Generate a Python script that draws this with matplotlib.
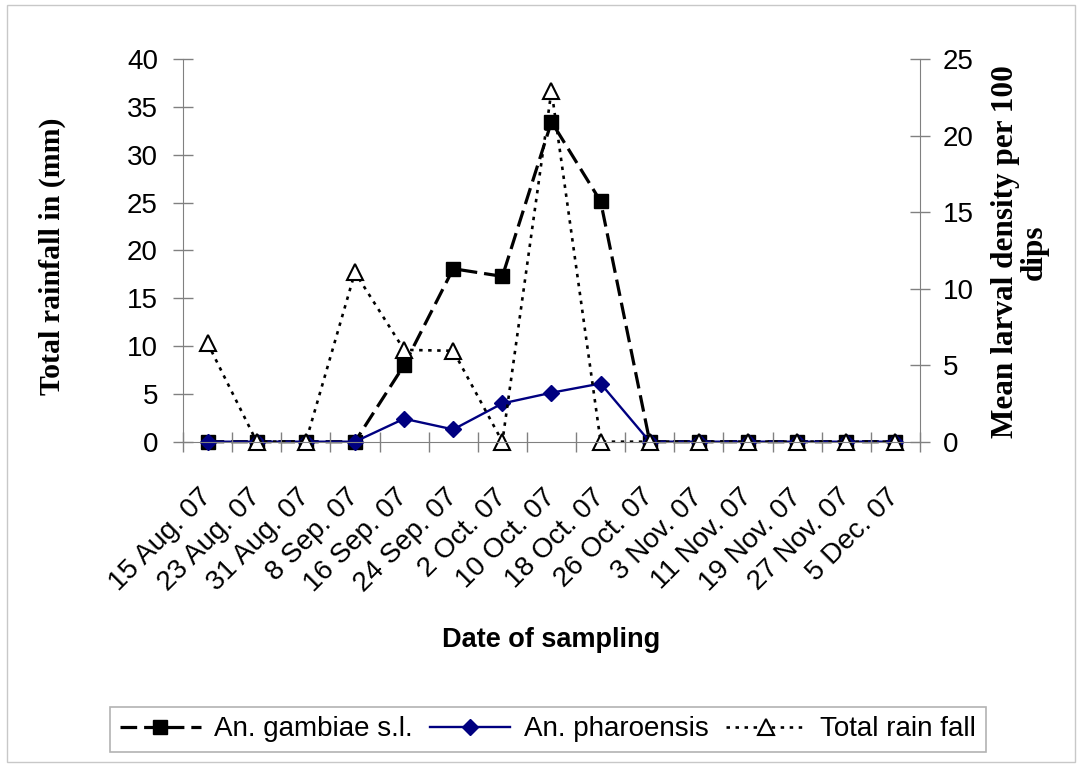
import matplotlib
matplotlib.use('Agg')
import matplotlib.pyplot as plt
from matplotlib.patches import Rectangle

# ---- data ----
dates = ['15 Aug. 07', '23 Aug. 07', '31 Aug. 07', '8 Sep. 07', '16 Sep. 07',
         '24 Sep. 07', '2 Oct. 07', '10 Oct. 07', '18 Oct. 07', '26 Oct. 07',
         '3 Nov. 07', '11 Nov. 07', '19 Nov. 07', '27 Nov. 07', '5 Dec. 07']
rainfall = [10.3, 0, 0, 17.7, 9.6, 9.5, 0, 36.7, 0, 0, 0, 0, 0, 0, 0]
gambiae = [0, 0, 0, 0, 5.0, 11.3, 10.8, 20.9, 15.7, 0, 0, 0, 0, 0, 0]
pharoensis = [0, 0, 0, 0, 1.5, 0.8, 2.5, 3.2, 3.8, 0, 0, 0, 0, 0, 0]
rain_ticks = [0, 5, 10, 15, 20, 25, 30, 35, 40]
larva_ticks = [0, 5, 10, 15, 20, 25]

plt.rcParams['font.family'] = ['Liberation Sans', 'DejaVu Sans']
plt.rcParams['lines.scale_dashes'] = False

W, H = 1079, 766
fig = plt.figure(figsize=(W / 100, H / 100), dpi=100)
ax = fig.add_axes([183 / W, 1 - 441.7 / H, (920 - 183) / W, (441.7 - 59) / H])
ax2 = ax.twinx()
ax.set_zorder(ax2.get_zorder() + 1)
ax.patch.set_visible(False)

x = list(range(len(dates)))
l_g, = ax2.plot(x, gambiae, color='black', lw=2.3, dashes=(12, 5), marker='s', ms=9.5,
                mfc='black', mec='black', label='An. gambiae s.l.', clip_on=False)
l_p, = ax2.plot(x, pharoensis, color='#000080', lw=1.7, marker='D', ms=8,
                mfc='#000080', mec='#000080', label='An. pharoensis', clip_on=False)
l_r, = ax.plot(x, rainfall, color='black', lw=1.9, dashes=(2.5, 4), marker='^', ms=11,
               mfc='white', mec='black', mew=1.5, label='Total rain fall', clip_on=False)

ax.set_xlim(-0.5, len(dates) - 0.5)
ax.set_ylim(0, 40)
ax2.set_ylim(0, 25)
ax.set_yticks(rain_ticks)
ax2.set_yticks(larva_ticks)

gray = '#808080'
ax.set_xticks(x)
ax.set_xticklabels(dates, rotation=45, ha='right', va='center', rotation_mode='anchor')
ax.set_xticks([i - 0.5 for i in range(len(dates) + 1)], minor=True)
ax.tick_params(axis='x', which='major', length=0, pad=37, labelsize=20)
ax.tick_params(axis='x', which='minor', length=14, direction='inout', color=gray, width=1)
ax.tick_params(axis='y', direction='inout', length=14, pad=11, labelsize=20, color=gray, width=1)
ax2.tick_params(axis='y', direction='inout', length=14, pad=9.5, labelsize=20, color=gray, width=1)

for s in ['top', 'right']:
    ax.spines[s].set_visible(False)
for s in ['top', 'left', 'bottom']:
    ax2.spines[s].set_visible(False)
ax.spines['left'].set_color(gray)
ax.spines['bottom'].set_color(gray)
ax2.spines['right'].set_color(gray)

fig.text(52 / W, 1 - 256 / H, 'Total rainfall in (mm)', rotation=90, ha='center', va='center',
         family='Liberation Serif', weight='bold', fontsize=21.5)
fig.text(1020 / W, 1 - 252 / H, 'Mean larval density per 100\ndips', rotation=90, ha='center',
         va='center', multialignment='center', family='Liberation Serif', weight='bold',
         fontsize=22.5, linespacing=1.0)
fig.text(551 / W, 1 - 640 / H, 'Date of sampling', ha='center', va='center', weight='bold',
         fontsize=19.5)

leg = fig.legend(handles=[l_g, l_p, l_r], loc='center', bbox_to_anchor=(548 / W, 1 - 729.5 / H),
                 ncol=3, fontsize=20, frameon=True, fancybox=False, edgecolor='#a0a0a0',
                 handlelength=2.9, handletextpad=0.5, columnspacing=0.6, borderpad=0.35)
leg.get_frame().set_linewidth(1.2)

fig.add_artist(Rectangle((7 / W, 1 - 762 / H), (1075 - 7) / W, (762 - 5) / H,
                         transform=fig.transFigure, fill=False, edgecolor='#c8c8c8', lw=1))

fig.savefig('out.png', dpi=100)
